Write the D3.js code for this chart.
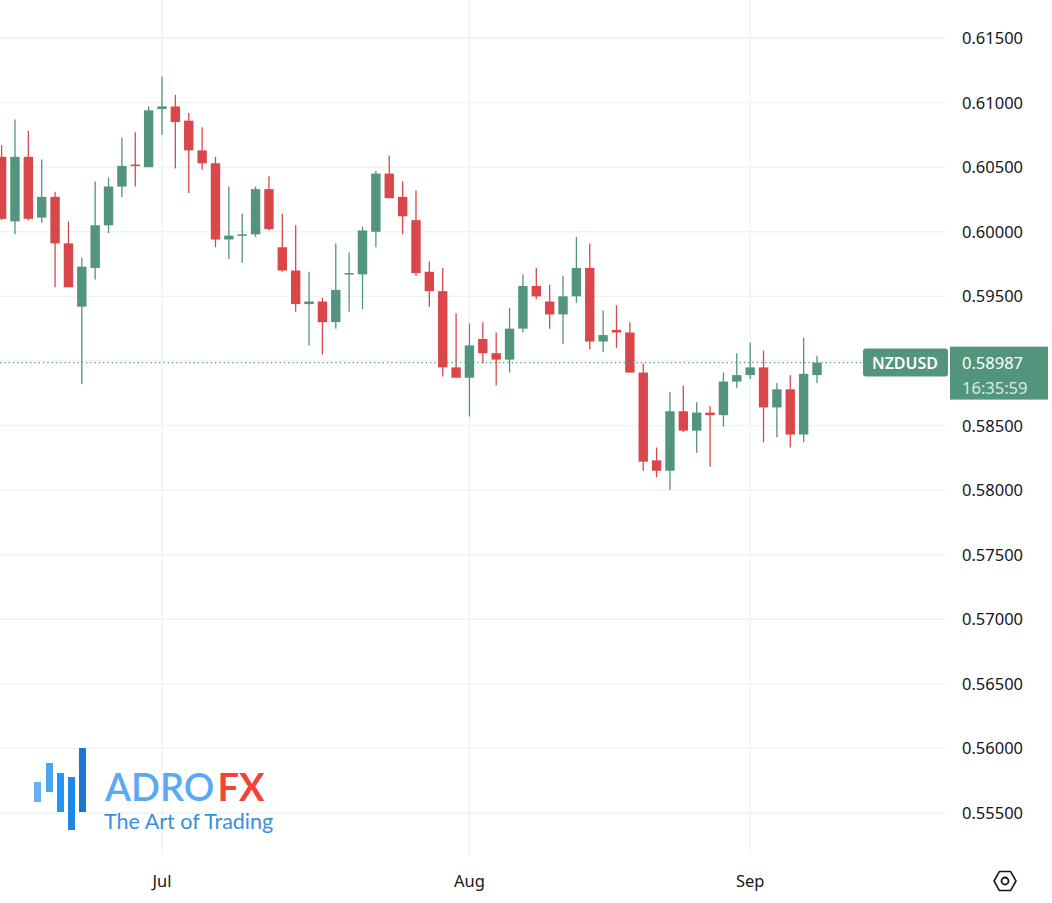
<!DOCTYPE html>
<html><head><meta charset="utf-8">
<script src="https://cdn.jsdelivr.net/npm/d3@7"></script>
<style>body{margin:0;background:#fff}svg{display:block;font-family:"Noto Sans",Roboto,sans-serif}</style>
</head><body>
<svg id="c" width="1052" height="903"></svg>
<script>
// OHLC values, [open, high, low, close]
const candles = [
[.6058,.6067,.6009,.6010],[.6008,.6087,.5998,.6058],[.6058,.6078,.6009,.6010],[.6011,.6056,.6007,.6027],
[.6027,.6031,.5957,.5991],[.5991,.6008,.5957,.5957],[.5942,.5980,.5882,.5973],[.5972,.6039,.5963,.6005],
[.6005,.6042,.5999,.6035],[.6035,.6073,.6027,.6051],[.6052,.6077,.6035,.6051],[.6050,.6097,.6050,.6094],
[.6095,.6120,.6075,.6097],[.6097,.6106,.6049,.6085],[.6086,.6092,.6030,.6063],[.6063,.6081,.6048,.6053],
[.6053,.6058,.5988,.5994],[.5994,.6035,.5979,.5997],[.5997,.6014,.5976,.5998],[.5998,.6035,.5996,.6033],
[.6033,.6043,.6001,.6002],[.5988,.6014,.5969,.5970],[.5970,.6005,.5938,.5944],[.5944,.5969,.5912,.5946],
[.5946,.5949,.5905,.5930],[.5930,.5991,.5925,.5955],[.5967,.5984,.5938,.5968],[.5967,.6004,.5940,.6001],
[.6000,.6047,.5988,.6045],[.6045,.6059,.6026,.6026],[.6027,.6039,.5998,.6012],[.6009,.6032,.5966,.5968],
[.5969,.5977,.5942,.5954],[.5954,.5972,.5888,.5895],[.5895,.5937,.5887,.5887],[.5887,.5929,.5857,.5912],
[.5917,.5930,.5898,.5906],[.5906,.5922,.5881,.5901],[.5901,.5941,.5891,.5925],[.5925,.5967,.5922,.5958],
[.5958,.5972,.5948,.5950],[.5946,.5959,.5925,.5936],[.5936,.5966,.5913,.5950],[.5950,.5996,.5945,.5972],
[.5972,.5991,.5909,.5915],[.5915,.5939,.5907,.5920],[.5924,.5943,.5910,.5922],[.5922,.5930,.5891,.5891],
[.5891,.5898,.5815,.5822],[.5823,.5833,.5810,.5815],[.5815,.5876,.5800,.5861],[.5861,.5881,.5845,.5846],
[.5846,.5868,.5829,.5860],[.5860,.5865,.5818,.5858],[.5858,.5891,.5849,.5884],[.5884,.5906,.5879,.5889],
[.5889,.5914,.5886,.5895],[.5895,.5908,.5837,.5864],[.5864,.5883,.5841,.5878],[.5878,.5889,.5833,.5843],
[.5843,.5918,.5837,.5890],[.5889,.5904,.5883,.58987]];
const monthLabels = ["Jul","Aug","Sep"];
const monthIndex = [12,35,56];
const priceTicks = [0.555,0.56,0.565,0.57,0.575,0.58,0.585,0.59,0.595,0.60,0.605,0.61,0.615];
const symbol = "NZDUSD", lastPrice = 0.58987, countdown = "16:35:59";

const up="#52957c", down="#d9474b";
const svg=d3.select("#c");
const x=d3.scaleLinear().domain([0,candles.length-1]).range([1.6,817]);
const y=d3.scaleLinear().domain([0.555,0.615]).range([813,38]);

svg.append("g").selectAll("line").data(priceTicks).join("line")
 .attr("x1",0).attr("x2",945).attr("y1",d=>y(d)).attr("y2",d=>y(d)).attr("stroke","#f0f1f3").attr("stroke-width",1.3);
svg.append("g").selectAll("line").data(monthIndex).join("line")
 .attr("x1",d=>x(d)).attr("x2",d=>x(d)).attr("y1",0).attr("y2",855).attr("stroke","#f0f1f3").attr("stroke-width",1.3);

svg.append("g").selectAll("text").data(priceTicks).join("text")
 .attr("x",962).attr("y",d=>y(d)+6).attr("font-size",16.5).attr("fill","#131722").text(d=>d.toFixed(5));
svg.append("g").selectAll("text").data(monthLabels).join("text")
 .attr("x",(d,i)=>x(monthIndex[i])).attr("y",887).attr("text-anchor","middle").attr("font-size",16.5).attr("fill","#131722").text(d=>d);

// logo
const bars=[[34,782,7,20,"#64b0f2"],[46,763,7,29,"#4aa5f0"],[57,773,7,39,"#2196f3"],[68,777,7,53,"#1e88e5"],[79,748,7,64,"#1976d2"]];
svg.append("g").selectAll("rect").data(bars).join("rect")
 .attr("x",d=>d[0]).attr("y",d=>d[1]).attr("width",d=>d[2]).attr("height",d=>d[3]).attr("fill",d=>d[4]);
const lt=svg.append("text").attr("x",105).attr("y",801).attr("font-size",38).attr("font-weight",600).attr("font-family","Lato, 'Noto Sans', sans-serif");
lt.append("tspan").attr("fill","#5aa9f5").text("ADRO");
lt.append("tspan").attr("fill","#f44336").attr("font-weight",700).attr("dx",3).text("FX");
svg.append("text").attr("x",104).attr("y",829).attr("font-size",21.5).attr("fill","#3b8ed8").attr("font-family","Lato, 'Noto Sans', sans-serif").text("The Art of Trading");

const g=svg.append("g");
g.selectAll("line").data(candles).join("line")
 .attr("x1",(d,i)=>x(i)).attr("x2",(d,i)=>x(i)).attr("y1",d=>y(d[1])).attr("y2",d=>y(d[2]))
 .attr("stroke",d=>d[3]>=d[0]?up:down).attr("stroke-width",1.3);
g.selectAll("rect").data(candles).join("rect")
 .attr("x",(d,i)=>x(i)-4.7).attr("width",9.4)
 .attr("y",d=>y(Math.max(d[0],d[3])))
 .attr("height",d=>Math.max(1.5,Math.abs(y(d[0])-y(d[3]))))
 .attr("fill",d=>d[3]>=d[0]?up:down);

const ly=y(lastPrice);
svg.append("line").attr("x1",0).attr("x2",862).attr("y1",ly).attr("y2",ly)
 .attr("stroke",up).attr("stroke-width",1.3).attr("stroke-dasharray","1.3,3");
svg.append("rect").attr("x",863).attr("y",ly-14).attr("width",85).attr("height",28).attr("rx",3).attr("fill",up);
svg.append("text").attr("x",905).attr("y",ly+6).attr("text-anchor","middle").attr("font-size",16).attr("font-weight",600).attr("fill","#fff").text(symbol);
svg.append("rect").attr("x",950).attr("y",ly-16).attr("width",98).attr("height",53).attr("fill",up);
svg.append("text").attr("x",962).attr("y",ly+6).attr("font-size",16.5).attr("fill","#fff").text(lastPrice.toFixed(5));
svg.append("text").attr("x",962).attr("y",ly+31).attr("font-size",16.5).attr("fill","#d6ece3").text(countdown);

const cx=1005, cy=881, r=11;
const hex=d3.range(6).map(k=>[cx+r*Math.cos(Math.PI/3*k),cy+r*Math.sin(Math.PI/3*k)]);
svg.append("polygon").attr("points",hex.map(p=>p.join(",")).join(" ")).attr("fill","none").attr("stroke","#131722").attr("stroke-width",1.6).attr("stroke-linejoin","round");
svg.append("circle").attr("cx",cx).attr("cy",cy).attr("r",3.5).attr("fill","none").attr("stroke","#131722").attr("stroke-width",1.8);
</script>
</body></html>
